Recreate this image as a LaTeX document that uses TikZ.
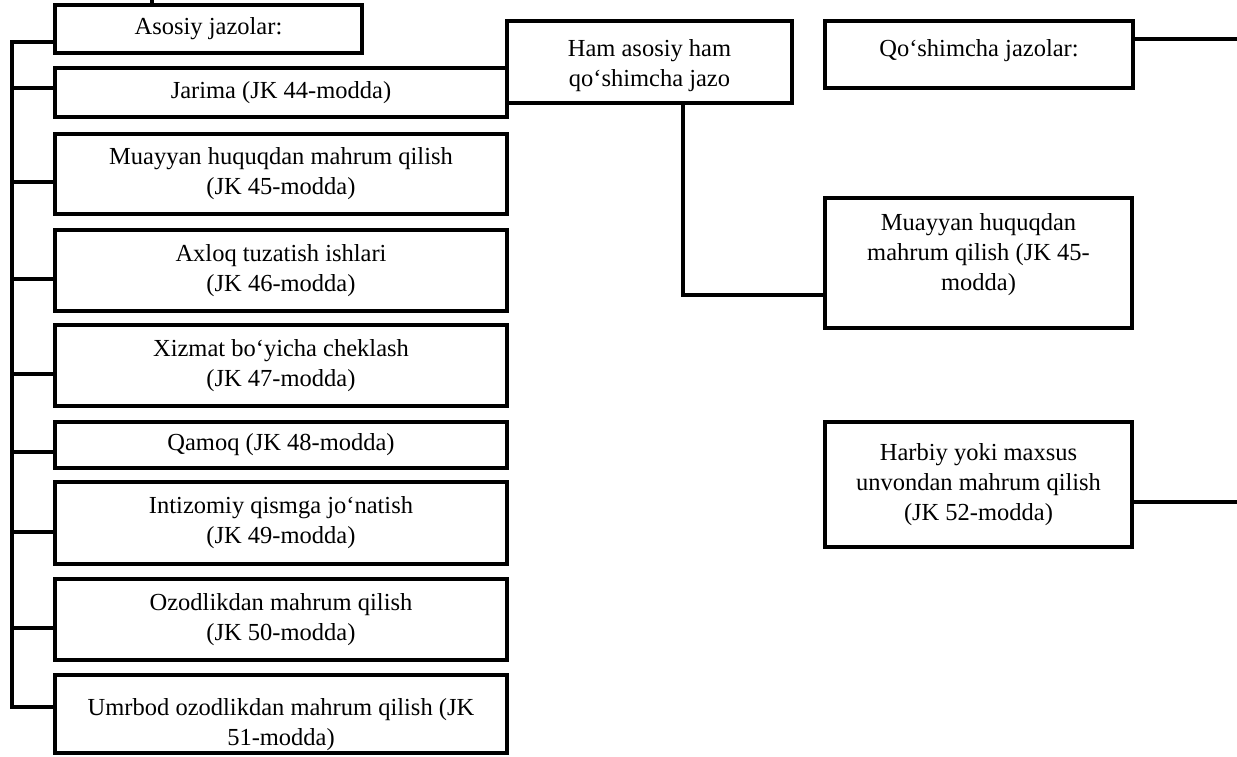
\documentclass[tikz,border=0pt]{standalone}
\usepackage{fontspec}
\setmainfont{Liberation Serif}

\tikzset{
  bx/.style={draw, line width=4.5pt, align=center, inner sep=0pt,
    font=\fontsize{24.5}{30}\selectfont},
  lnk/.style={line width=4pt}
}

\begin{document}
\begin{tikzpicture}[x=1pt, y=-1pt]
\useasboundingbox (0,0) rectangle (1237,756);

% asosiy jazolar (left column)
\node[bx, minimum width=307, minimum height=48] (asos) at (208.5,29) {Asosiy jazolar:};
\node[bx, minimum width=452, minimum height=49] (jarima) at (281,92.5) {Jarima (JK 44-modda)};
\node[bx, minimum width=452, minimum height=80] (muay) at (281,174) {Muayyan huquqdan mahrum qilish\\(JK 45-modda)};
\node[bx, minimum width=452, minimum height=81] (axloq) at (281,270.5) {Axloq tuzatish ishlari\\(JK 46-modda)};
\node[bx, minimum width=452, minimum height=81] (xizmat) at (281,365.5) {Xizmat bo‘yicha cheklash\\(JK 47-modda)};
\node[bx, minimum width=452, minimum height=46] (qamoq) at (281,445) {Qamoq (JK 48-modda)};
\node[bx, minimum width=452, minimum height=82] (intiz) at (281,523) {Intizomiy qismga jo‘natish\\(JK 49-modda)};
\node[bx, minimum width=452, minimum height=81] (ozod) at (281,619.5) {Ozodlikdan mahrum qilish\\(JK 50-modda)};
\node[bx, minimum width=452, minimum height=78] (umrbod) at (281,714) {\rule{0pt}{38pt}Umrbod ozodlikdan mahrum qilish (JK\\51-modda)};

% middle and right
\node[bx, minimum width=285, minimum height=82] (ham) at (649.5,62) {\rule{0pt}{25pt}Ham asosiy ham\\qo‘shimcha jazo};
\node[bx, minimum width=308, minimum height=67] (qosh) at (979,54.5) {Qo‘shimcha jazolar:\rule[-14pt]{0pt}{14pt}};
\node[bx, minimum width=307, minimum height=130] (muay2) at (978.5,263) {Muayyan huquqdan\\mahrum qilish (JK 45-\\modda)\rule[-22pt]{0pt}{22pt}};
\node[bx, minimum width=307, minimum height=125] (harb) at (978.5,484.5) {Harbiy yoki maxsus\\unvondan mahrum qilish\\(JK 52-modda)};

% left bracket
\coordinate (spine) at (12,0);
\coordinate (top) at (152,0);
\coordinate (redge) at (1237,0);
\foreach \n/\dy in {asos/13, jarima/-4.5, muay/8, axloq/8.5, xizmat/8.5,
                    qamoq/7, intiz/9, ozod/8.5, umrbod/-7} {
  \coordinate (b\n) at ([yshift=-\dy pt]\n.west);
  \draw[lnk] (b\n) -- (spine |- b\n);
}
\draw[lnk, line cap=rect] (spine |- basos) -- (spine |- bumrbod);
\draw[lnk] (asos.north -| top) -- (top);

% right links
\coordinate (bham) at ([xshift=33.5pt]ham.south);
\coordinate (bmuay2) at ([yshift=-32pt]muay2.west);
\draw[lnk] (bham) |- (bmuay2);
\coordinate (bqosh) at ([yshift=15.5pt]qosh.east);
\draw[lnk] (bqosh) -- (bqosh -| redge);
\coordinate (bharb) at ([yshift=-17.5pt]harb.east);
\draw[lnk] (bharb) -- (bharb -| redge);
\end{tikzpicture}
\end{document}
